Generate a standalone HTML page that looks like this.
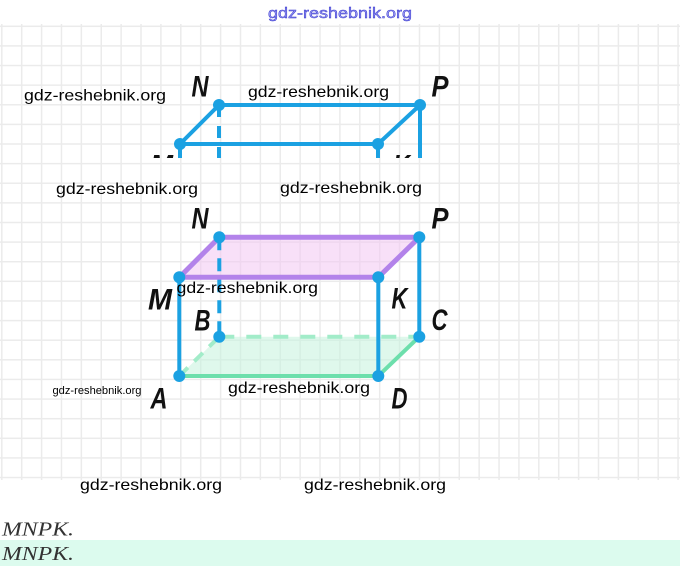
<!DOCTYPE html>
<html>
<head>
<meta charset="utf-8">
<style>
html,body{margin:0;padding:0;background:#fff;}
body{width:680px;height:566px;overflow:hidden;}
svg{display:block;}
.lbl{font-family:"Liberation Sans",sans-serif;font-weight:bold;font-style:italic;font-size:30px;fill:#111;}
.wm{font-family:"Liberation Sans",sans-serif;font-size:16px;fill:#000;}
.math{font-family:"Liberation Serif",serif;font-style:italic;font-size:20px;fill:#333;}
</style>
</head>
<body>
<svg width="680" height="566" viewBox="0 0 680 566" xmlns="http://www.w3.org/2000/svg">
<defs>
<clipPath id="topclip"><rect x="0" y="0" width="680" height="158"/></clipPath>
<pattern id="grid" x="1.05" y="25.55" width="19.89" height="19.62" patternUnits="userSpaceOnUse">
<path d="M0.75 0V19.62M0 0.75H19.89" stroke="#ebebeb" stroke-width="1.5" fill="none"/>
</pattern>
</defs>

<text x="268" y="18" textLength="144" lengthAdjust="spacingAndGlyphs" style="font-family:'Liberation Sans',sans-serif;font-size:15px;fill:#9a9af2;stroke:#3030cc;stroke-width:0.45;">gdz-reshebnik.org</text>

<rect x="0" y="24" width="680" height="456" fill="url(#grid)"/>

<g clip-path="url(#topclip)">
<g stroke="#1ba1e2" stroke-width="4" stroke-linecap="round" fill="none">
<line x1="219" y1="105" x2="219" y2="165" stroke-dasharray="12 9" stroke-linecap="butt"/>
<path d="M219 105H420M180 144H378M180 144L219 105M378 144L420 105M420 105V170M378 144V170M180 144V170"/>
</g>
<g fill="#1ba1e2">
<circle cx="219" cy="105" r="6"/>
<circle cx="420" cy="105" r="6"/>
<circle cx="180" cy="144" r="6"/>
<circle cx="378" cy="144" r="6"/>
</g>
<text class="lbl" x="150" y="175.5" textLength="23" lengthAdjust="spacingAndGlyphs">M</text>
<text class="lbl" x="393" y="175.5" textLength="17" lengthAdjust="spacingAndGlyphs">K</text>
</g>
<text class="lbl" x="191.5" y="96.5" textLength="17" lengthAdjust="spacingAndGlyphs">N</text>
<text class="lbl" x="431.5" y="96.5" textLength="17" lengthAdjust="spacingAndGlyphs">P</text>

<polygon points="219.3,237.3 419.3,237.3 378.3,277.3 179.3,277.3" fill="#f2c6f2" fill-opacity="0.55"/>
<polygon points="219.3,336.7 419.3,336.7 378.3,376 179.3,376" fill="#c4f3dc" fill-opacity="0.55"/>

<line x1="219.3" y1="237.3" x2="219.3" y2="336.7" stroke="#1ba1e2" stroke-width="4" stroke-dasharray="13 8"/>
<path d="M219.3 336.7H419.3" stroke="#a2ecc9" stroke-width="4" stroke-dasharray="15 12" fill="none"/>
<path d="M179.3 376L219.3 336.7" stroke="#a2ecc9" stroke-width="4" stroke-dasharray="12 9" fill="none"/>

<path d="M179.3 277.3V376M378.3 277.3V376M419.3 237.3V336.7" stroke="#1ba1e2" stroke-width="4" fill="none"/>

<path d="M179.3 376H378.3L419.3 336.7" stroke="#6ddfac" stroke-width="4" stroke-linecap="round" stroke-linejoin="round" fill="none"/>

<path d="M219.3 237.3H419.3L378.3 277.3H179.3Z" stroke="#b383ea" stroke-width="5" stroke-linejoin="round" fill="none"/>

<g fill="#1ba1e2">
<circle cx="219.3" cy="237.3" r="6"/>
<circle cx="419.3" cy="237.3" r="6"/>
<circle cx="179.3" cy="277.3" r="6"/>
<circle cx="378.3" cy="277.3" r="6"/>
<circle cx="219.3" cy="336.7" r="6"/>
<circle cx="419.3" cy="336.7" r="6"/>
<circle cx="179.3" cy="376" r="6"/>
<circle cx="378.3" cy="376" r="6"/>
</g>

<text class="lbl" x="191.5" y="228.5" textLength="17" lengthAdjust="spacingAndGlyphs">N</text>
<text class="lbl" x="431.5" y="228.5" textLength="17" lengthAdjust="spacingAndGlyphs">P</text>
<text class="lbl" x="148" y="309.5" textLength="24" lengthAdjust="spacingAndGlyphs">M</text>
<text class="lbl" x="391.5" y="308.5" textLength="16" lengthAdjust="spacingAndGlyphs">K</text>
<text class="lbl" x="194.5" y="330.5" textLength="16" lengthAdjust="spacingAndGlyphs">B</text>
<text class="lbl" x="431.5" y="330" textLength="16" lengthAdjust="spacingAndGlyphs">C</text>
<text class="lbl" x="150.5" y="408.3" textLength="17" lengthAdjust="spacingAndGlyphs">A</text>
<text class="lbl" x="391.5" y="408.3" textLength="16" lengthAdjust="spacingAndGlyphs">D</text>

<text class="wm" x="24" y="100.5" textLength="142" lengthAdjust="spacingAndGlyphs">gdz-reshebnik.org</text>
<text class="wm" x="248" y="97" textLength="141" lengthAdjust="spacingAndGlyphs">gdz-reshebnik.org</text>
<text class="wm" x="56" y="194" textLength="142" lengthAdjust="spacingAndGlyphs">gdz-reshebnik.org</text>
<text class="wm" x="280" y="193" textLength="142" lengthAdjust="spacingAndGlyphs">gdz-reshebnik.org</text>
<text class="wm" x="176.5" y="293" textLength="141.5" lengthAdjust="spacingAndGlyphs">gdz-reshebnik.org</text>
<text class="wm" x="52.5" y="394" textLength="89" lengthAdjust="spacingAndGlyphs" style="font-size:11px;">gdz-reshebnik.org</text>
<text class="wm" x="228" y="393" textLength="142" lengthAdjust="spacingAndGlyphs">gdz-reshebnik.org</text>
<text class="wm" x="80" y="490" textLength="142" lengthAdjust="spacingAndGlyphs">gdz-reshebnik.org</text>
<text class="wm" x="304" y="490" textLength="142" lengthAdjust="spacingAndGlyphs">gdz-reshebnik.org</text>

<rect x="0" y="540" width="680" height="26" fill="#dcfbee"/>
<text class="math" x="2" y="535.5" textLength="72" lengthAdjust="spacingAndGlyphs">MNPK.</text>
<text class="math" x="2" y="560" textLength="72" lengthAdjust="spacingAndGlyphs">MNPK.</text>
</svg>
</body>
</html>
